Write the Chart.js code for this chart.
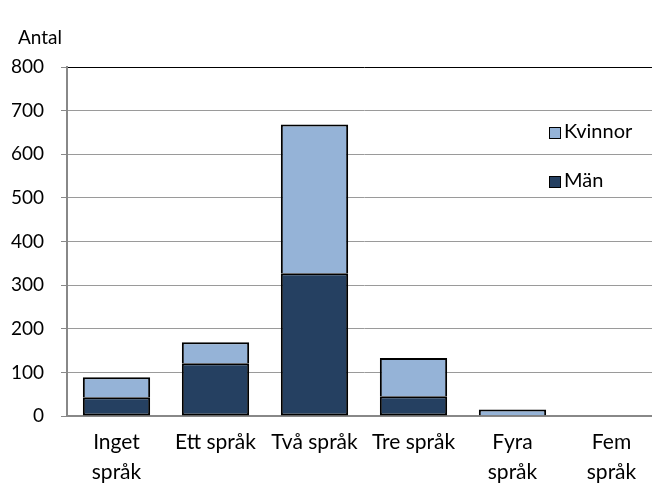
<!DOCTYPE html>
<html>
<head>
<meta charset="utf-8">
<script src="https://cdn.jsdelivr.net/npm/chart.js@4"></script>
<style>
  html, body { margin: 0; padding: 0; background: #fff; overflow: hidden; }
  #wrap { position: relative; width: 700px; height: 484px; }
  .txt { position: absolute; font-family: Lato, "Open Sans", sans-serif; font-size: 20px; color: #000; white-space: nowrap; }
  .sw { display: inline-block; width: 10px; height: 10px; border: 1px solid #000; margin-right: 3px; vertical-align: -1px; }
</style>
</head>
<body>
<div id="wrap">
  <canvas id="c" width="700" height="484"></canvas>
  <div class="txt" style="left:18px; top:25px; font-size:19px;">Antal</div>
  <div class="txt" style="left:549px; top:118px;"><span class="sw" style="background:#95B3D7"></span>Kvinnor</div>
  <div class="txt" style="left:549px; top:167px;"><span class="sw" style="background:#254061"></span>Män</div>
</div>
<script>
// data
const categories = [['Inget', 'språk'], 'Ett språk', 'Två språk', 'Tre språk', ['Fyra', 'språk'], ['Fem', 'språk']];
const man = [43, 121, 327, 45, 2, 0];
const kvinnor = [46, 48, 341, 88, 13, 0];
const yMax = 800;
const yStep = 100;

const ctx = document.getElementById('c').getContext('2d');
new Chart(ctx, {
  type: 'bar',
  data: {
    labels: categories,
    datasets: [
      { label: 'Män', data: man, backgroundColor: '#254061', borderColor: '#000', borderWidth: 2, borderSkipped: false },
      { label: 'Kvinnor', data: kvinnor, backgroundColor: '#95B3D7', borderColor: '#000', borderWidth: 2, borderSkipped: 'start' }
    ]
  },
  options: {
    responsive: false,
    animation: false,
    layout: { padding: { top: 67, right: 39, left: 0, bottom: 0 } },
    datasets: { bar: { barPercentage: 0.68, categoryPercentage: 1 } },
    plugins: { legend: { display: false }, tooltip: { enabled: false } },
    scales: {
      x: {
        stacked: true,
        grid: { display: false, drawTicks: false },
        border: { color: '#888', width: 2 },
        ticks: { color: '#000', padding: 12, font: { family: 'Lato', size: 21, lineHeight: 1.4 } },
        afterFit: s => { s.height = 68; }
      },
      y: {
        stacked: true,
        min: 0, max: yMax,
        ticks: { stepSize: yStep, color: '#000', padding: 17, font: { family: 'Lato', size: 19 } },
        grid: {
          color: c => c.tick && c.tick.value === yMax ? '#000' : '#9a9a9a',
          tickColor: '#888', tickLength: 6
        },
        border: { color: '#888', width: 2 },
        afterFit: s => { s.width = 67; }
      }
    }
  }
});
</script>
</body>
</html>
